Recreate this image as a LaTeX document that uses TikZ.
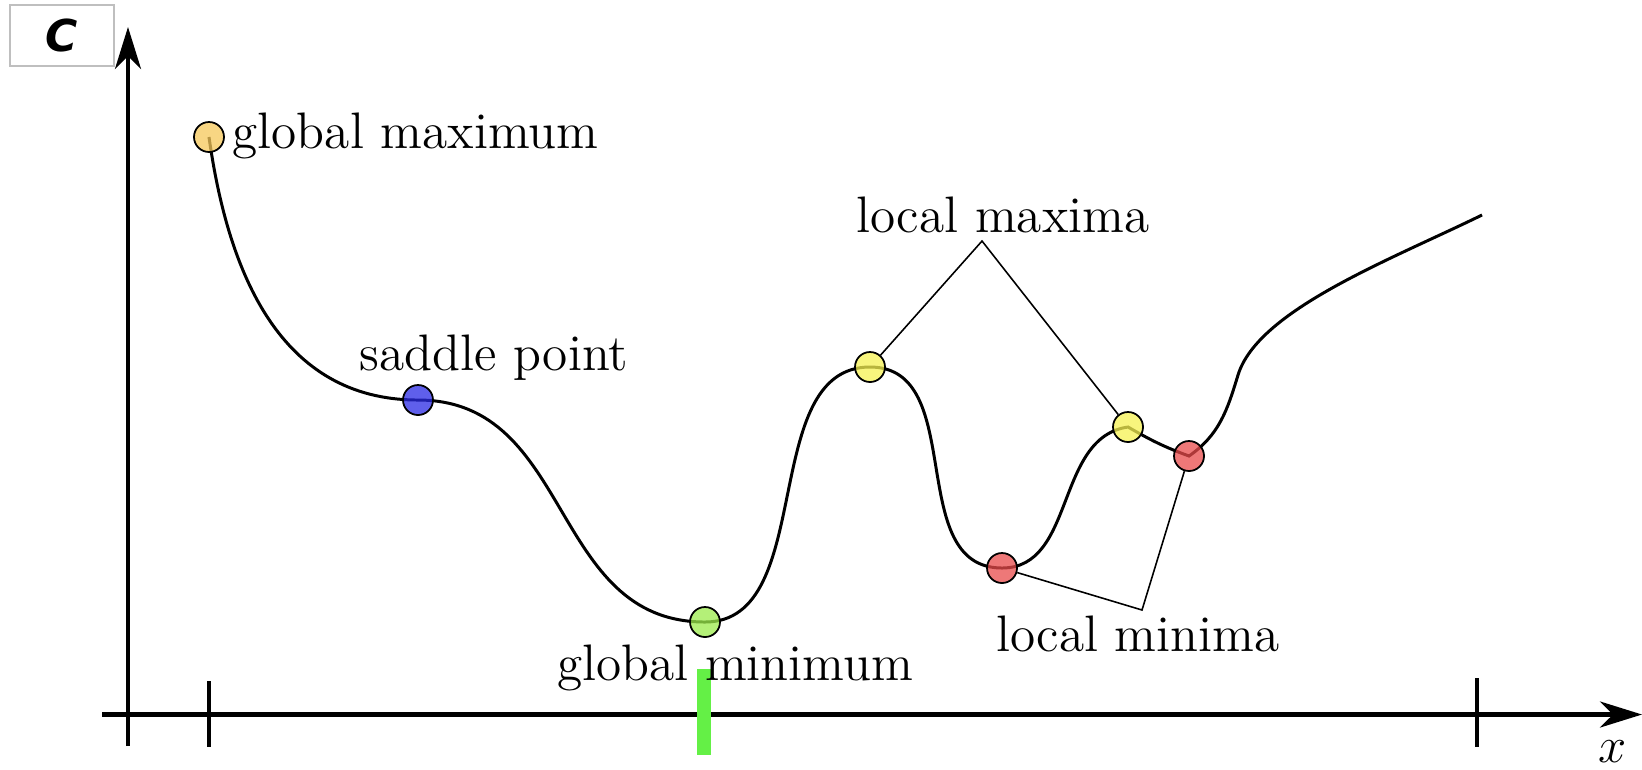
\documentclass[tikz,border=0pt]{standalone}
\usepackage{fontspec}
\newfontfamily\axisfont{DejaVu Sans}
\usetikzlibrary{arrows.meta}
\definecolor{maxcol}{RGB}{245,200,90}
\definecolor{sadcol}{RGB}{42,42,228}
\definecolor{mincol}{RGB}{155,235,75}
\definecolor{lmaxcol}{RGB}{246,242,82}
\definecolor{lmincol}{RGB}{232,75,75}
\definecolor{tickgreen}{RGB}{100,240,70}
\begin{document}
\begin{tikzpicture}[x=0.1mm, y=0.1mm,
  axis/.style={line width=1.3pt, -{Stealth[length=4.2mm, width=2.6mm, inset=1.3mm]}},
  tick/.style={line width=1.4pt},
  curve/.style={line width=0.85pt},
  crit/.style={circle, draw=black, line width=0.5pt, minimum size=3mm, inner sep=0pt, fill opacity=0.75},
  lbl/.style={inner sep=0pt, font=\fontsize{14.6}{17}\selectfont},
  leader/.style={line width=0.45pt}]
\useasboundingbox (0,0) rectangle (1642,-769);
% corner label
\node[draw=black!25, line width=0.4pt, minimum width=10.4mm, minimum height=6.1mm, inner sep=0pt,
  font=\axisfont\bfseries\itshape\fontsize{12.5}{14}\selectfont] (cbox) at (62,-35.5) {C};
% axes
\draw[axis] (128,-746) -- (128,-27);
\draw[axis] (102,-714.5) -- (1642,-714.5);
\node[lbl] (xlbl) at (1613,-752) {$x$};
\draw[tick] (209,-681) -- (209,-747);
\draw[tick] (1477,-678) -- (1477,-747);
% critical points
\coordinate (gmax) at (209,-137);
\coordinate (sad)  at (418,-400);
\coordinate (gmin) at (705,-622);
\coordinate (lmaxA) at (870,-367);
\coordinate (lminA) at (1002,-568);
\coordinate (lmaxB) at (1128,-427);
\coordinate (lminB) at (1189,-456);
\coordinate (knee) at (1238,-375);
\coordinate (tail) at (1482,-215);
\draw[curve] (gmax) to[out=-82, in=180, looseness=1.05] (sad)
  to[out=0, in=180, looseness=1.1] (gmin)
  to[out=0, in=180, looseness=0.95] (lmaxA)
  to[out=0, in=180, looseness=1.05] (lminA)
  to[out=0, in=188] (lmaxB)
  to[out=-30, in=160] (lminB)
  to[out=35, in=-107] (knee)
  .. controls (1258,-310) and (1390,-260) .. (tail);
\draw[tickgreen, line width=4pt] (704,-669) -- (704,-755);
\node[crit, fill=maxcol] (pgmax) at (gmax) {};
\node[crit, fill=sadcol] (psad) at (sad) {};
\node[crit, fill=mincol] (pgmin) at (gmin) {};
\node[crit, fill=lmaxcol] (plmaxA) at (lmaxA) {};
\node[crit, fill=lmaxcol] (plmaxB) at (lmaxB) {};
\node[crit, fill=lmincol] (plminA) at (lminA) {};
\node[crit, fill=lmincol] (plminB) at (lminB) {};
% labels
\node[lbl, anchor=west] (tgmax) at (232,-136) {global maximum};
\node[lbl] (tsad) at (494,-358) {saddle point};
\node[lbl] (tlmax) at (1003,-215) {local maxima};
\node[lbl] (tgmin) at (735,-668) {global minimum};
\node[lbl] (tlmin) at (1138,-634) {local minima};
\coordinate (maxapex) at (982,-241);
\coordinate (minapex) at (1142,-610);
\draw[leader] (plmaxA) -- (maxapex) -- (plmaxB);
\draw[leader] (plminA) -- (minapex) -- (plminB);
\end{tikzpicture}
\end{document}
